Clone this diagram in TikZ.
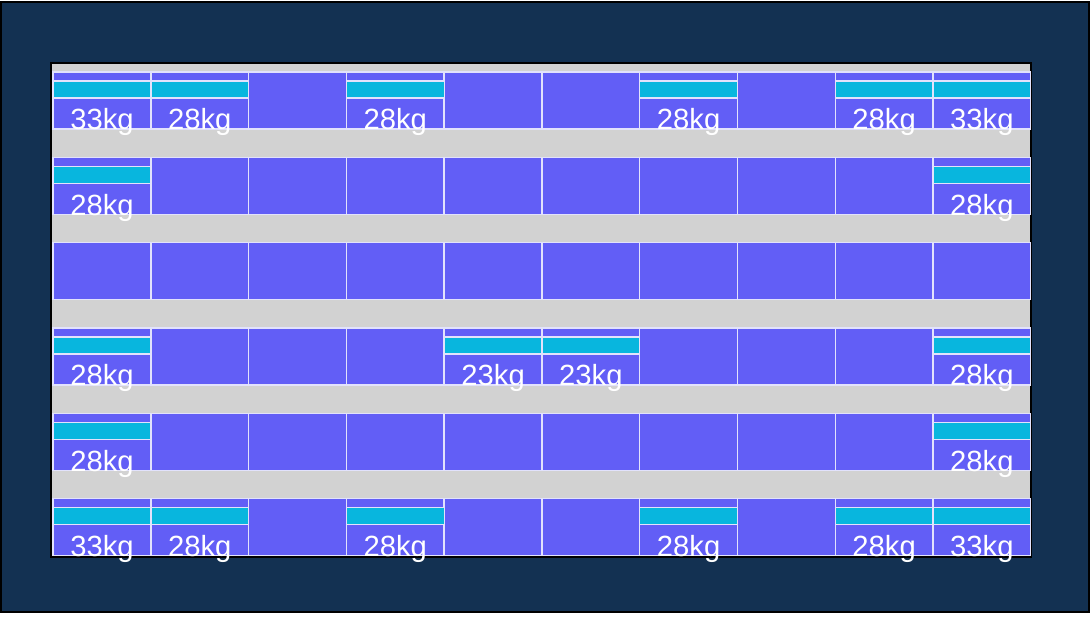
\documentclass[tikz,border=0pt]{standalone}
\usepackage{fontspec}
\setmainfont{Liberation Sans}
\usetikzlibrary{positioning}
\definecolor{navy}{RGB}{19,49,82}
\definecolor{cellblue}{RGB}{98,94,246}
\definecolor{bandcyan}{RGB}{8,182,222}
\definecolor{aislegrey}{RGB}{210,210,210}
\definecolor{cellline}{RGB}{226,226,252}
\tikzset{
  % Frame styles
  hall/.style={draw=black, line width=1.4pt, fill=navy},
  floor/.style={draw=black, line width=2pt, fill=aislegrey},
  % Cell styles
  cell/.style={rectangle, anchor=north west, minimum width=2.446cm, minimum height=1.425cm, inner sep=0pt, draw=cellline, line width=1pt, fill=cellblue},
  band/.style={rectangle, minimum width=2.446cm, minimum height=0.425cm, inner sep=0pt, draw=cellline, line width=1pt, fill=bandcyan},
  weight/.style={anchor=base, inner sep=0pt, text=white, font=\fontsize{20.8}{24}\selectfont},
}
\begin{document}
\begin{tikzpicture}[x=0.025cm, y=-0.025cm, node distance=0.225cm]
    % Background and frames
    \fill[white] (0,0) rectangle (1092,621);
    \draw[hall] (0,2) rectangle (1089,613);
    \draw[floor] (50,63) rectangle (1031,557);

    % Cells
    \foreach \r in {1,...,6}
      \foreach \c in {1,...,10}
        \node[cell] (cell-\r-\c) at ({51.5+(\c-1)*97.85},{71.5+(\r-1)*85.4}) {};

    % Loaded cells
    \foreach \r/\c/\w in {1/1/33, 1/2/28, 1/4/28, 1/7/28, 1/9/28, 1/10/33,
                          2/1/28, 2/10/28,
                          4/1/28, 4/5/23, 4/6/23, 4/10/28,
                          5/1/28, 5/10/28,
                          6/1/33, 6/2/28, 6/4/28, 6/7/28, 6/9/28, 6/10/33} {
      \node[band, below=of cell-\r-\c.north] (band-\r-\c) {};
      \node[weight] (load-\r-\c) at (cell-\r-\c.south) {\w kg};
    }
  \end{tikzpicture}
\end{document}
